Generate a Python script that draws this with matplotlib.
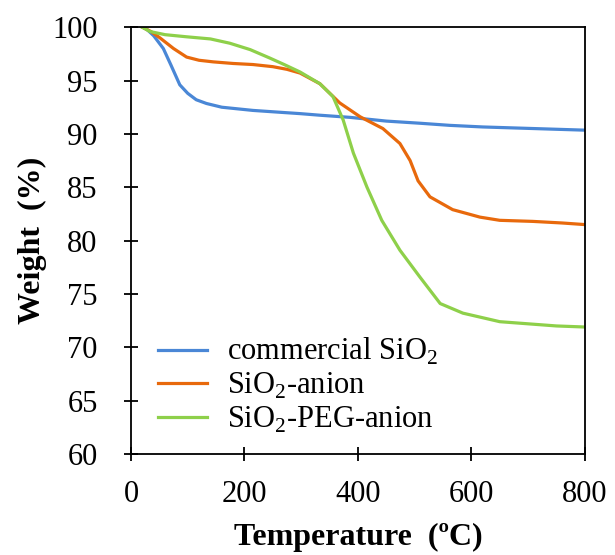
import matplotlib.pyplot as plt
import numpy as np

plt.rcParams['font.family'] = ['Liberation Serif', 'DejaVu Serif']
plt.rcParams['mathtext.fontset'] = 'custom'
plt.rcParams['mathtext.rm'] = 'Liberation Serif'

# commercial SiO2
t_blue = [20, 28, 40, 57, 70, 86, 100, 115, 133, 160, 215, 270, 298, 333, 386, 450, 509, 562, 620, 680, 740, 800]
w_blue = [100.0, 99.8, 99.2, 98.0, 96.5, 94.6, 93.8, 93.2, 92.85, 92.5, 92.2, 92.0, 91.9, 91.75, 91.55, 91.2, 91.0, 90.8, 90.65, 90.55, 90.45, 90.35]

# SiO2-anion
t_orange = [20, 35, 51, 75, 98, 120, 145, 180, 215, 250, 275, 298, 333, 368, 404, 444, 474, 492, 506, 527, 567, 615, 650, 708, 760, 800]
w_orange = [100.0, 99.6, 99.0, 98.0, 97.2, 96.9, 96.75, 96.6, 96.5, 96.3, 96.05, 95.7, 94.7, 92.9, 91.6, 90.5, 89.1, 87.5, 85.6, 84.1, 82.9, 82.2, 81.9, 81.8, 81.65, 81.5]

# SiO2-PEG-anion
t_green = [20, 33, 60, 98, 140, 174, 210, 245, 270, 298, 333, 356, 374, 392, 416, 442, 474, 509, 545, 585, 650, 700, 750, 800]
w_green = [100.0, 99.6, 99.3, 99.1, 98.9, 98.5, 97.9, 97.1, 96.5, 95.8, 94.7, 93.5, 91.3, 88.2, 85.0, 81.9, 79.1, 76.6, 74.1, 73.2, 72.4, 72.2, 72.0, 71.9]

fig = plt.figure(figsize=(6.15, 5.55), dpi=100)
ax = fig.add_axes([0.213, 0.182, 0.738, 0.769])

ax.plot(t_blue, w_blue, color='#4a87d6', lw=2.3, label='commercial SiO$_2$')
ax.plot(t_orange, w_orange, color='#e8690c', lw=2.3, label='SiO$_2$-anion')
ax.plot(t_green, w_green, color='#8ed04a', lw=2.3, label='SiO$_2$-PEG-anion')

ax.set_xlim(0, 800)
ax.set_ylim(60, 100)
ax.set_xticks([0, 200, 400, 600, 800])
ax.set_yticks(np.arange(60, 101, 5))
ax.tick_params(direction='inout', length=10, width=1.3, labelsize=22)
ax.tick_params(axis='x', pad=14)
ax.tick_params(axis='y', pad=19)
for s in ax.spines.values():
    s.set_linewidth(1.3)

ax.set_xlabel('Temperature  (ºC)', fontsize=23, fontweight='bold', labelpad=10)
ax.set_ylabel('Weight  (%)', fontsize=23, fontweight='bold', labelpad=4)

ax.legend(loc='lower left', bbox_to_anchor=(0.0, -0.02), frameon=False,
          fontsize=22, handlelength=1.6, handletextpad=0.65, labelspacing=0.12)

fig.savefig('out.png', dpi=100)
